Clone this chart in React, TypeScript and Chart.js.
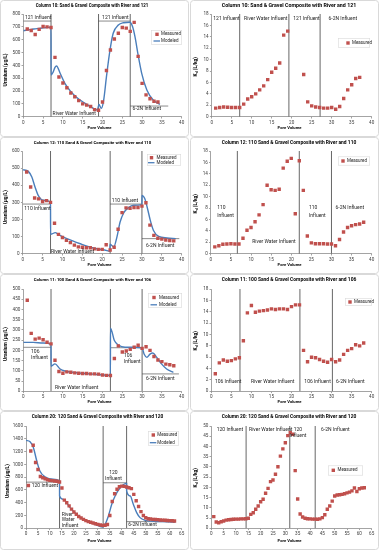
import { useEffect, useRef } from 'react';
import { Chart, registerables } from 'chart.js';

Chart.register(...registerables);

const FONT = 'Roboto, "Liberation Sans", Arial, sans-serif';
const RED = '#c0504d';
const BLUE = '#4a7ebb';
const TXT = '#262626';

// ---------- tick labels ----------
const xTicks40 = [0, 5, 10, 15, 20, 25, 30, 35, 40];
const xTicks65 = [0, 5, 10, 15, 20, 25, 30, 35, 40, 45, 50, 55, 60, 65];
const uTicks800 = [0, 100, 200, 300, 400, 500, 600, 700, 800];
const uTicks600 = [0, 100, 200, 300, 400, 500, 600];
const uTicks500 = [0, 50, 100, 150, 200, 250, 300, 350, 400, 450, 500];
const uTicks1600 = [0, 200, 400, 600, 800, 1000, 1200, 1400, 1600];
const kdTicks18 = [0, 2, 4, 6, 8, 10, 12, 14, 16, 18];
const kdTicks50 = [0, 5, 10, 15, 20, 25, 30, 35, 40, 45, 50];

// ---------- Column 10 ----------
const c10UPoreVolume = [1, 2, 3, 4, 5, 6, 7, 8, 9, 10, 11, 12, 13, 14, 15, 16, 17, 18, 19, 20, 21, 22, 23, 24, 25, 26, 27, 28, 29, 30, 31, 32, 33, 34];
const c10UMeasured = [683, 672, 640, 680, 703, 700, 695, 462, 309, 262, 225, 185, 155, 125, 100, 90, 80, 55, 50, 115, 360, 520, 605, 650, 695, 690, 665, 735, 470, 260, 170, 140, 120, 115];
const c10ModelPoreVolume = [0, 1, 2, 3, 4, 5, 6, 7, 7.01, 7.5, 8, 8.4, 9.3, 10.5, 11.8, 13.5, 15.6, 17.3, 18.7, 19.1, 19.7, 20.3, 21, 21.9, 22.7, 24, 25.3, 26.9, 27.6, 28.2, 29, 29.9, 31.2, 32.8, 34.5];
const c10ModelU = [670, 675, 680, 684, 688, 692, 695, 698, 325, 345, 385, 395, 338, 260, 203, 150, 104, 73, 52, 95, 65, 130, 312, 520, 650, 714, 732, 736, 700, 623, 480, 338, 208, 130, 96];
const c10KdPoreVolume = [1, 2, 3, 4, 5, 6, 7, 8, 9, 10, 11, 12, 13, 14, 15, 16, 17, 18, 19, 23, 24, 25, 26, 27, 28, 29, 30, 31, 32, 33, 34, 35, 36, 37];
const c10Kd = [1.5, 1.6, 1.7, 1.65, 1.6, 1.6, 1.6, 2.2, 3.1, 3.5, 4.0, 4.7, 5.4, 6.5, 7.8, 8.5, 9.4, 14.3, 15.0, 7.4, 2.6, 1.9, 1.7, 1.6, 1.5, 1.5, 1.6, 1.3, 1.8, 3.2, 4.7, 5.6, 6.7, 6.9];
const c10Changes = [7, 19, 27];
const c10KdChanges = [7, 19.3, 27.1];

// ---------- Column 12 ----------
const c12PoreVolume = [1, 2, 3, 4, 5, 6, 7, 8, 9, 10, 11, 12, 13, 14, 15, 16, 17, 18, 19, 20, 21, 22, 23, 24, 25, 26, 27, 28, 29, 30, 31, 32, 33, 34, 35, 36, 37, 38];
const c12UMeasured = [477, 390, 325, 320, 305, 310, 300, 178, 113, 95, 78, 65, 50, 40, 38, 35, 35, 28, 25, 25, 52, 22, 38, 143, 240, 268, 265, 270, 270, 278, 298, 167, 107, 90, 85, 80, 77, 75];
const c12ModelPoreVolume = [0, 1.4, 2.3, 3.1, 3.9, 5.2, 7, 7.01, 8.2, 9, 11.1, 14.5, 17.8, 21.2, 21.9, 22, 22.9, 23.7, 24.5, 25.4, 26.6, 27.9, 30, 30.01, 30.7, 31.3, 32.1, 32.9, 34.2, 36.3, 38.5];
const c12ModelU = [491, 481, 448, 390, 341, 312, 302, 113, 123, 111, 88, 58, 33, 18, 14, 55, 39, 97, 185, 238, 269, 283, 287, 341, 322, 273, 195, 136, 101, 92, 88];
const c12Kd = [1.2, 1.4, 1.65, 1.7, 1.75, 1.7, 1.7, 2.7, 4.1, 4.6, 5.6, 6.8, 8.6, 12.0, 11.2, 11.1, 11.3, 15.0, 16.2, 16.7, 7.0, 16.3, 11.1, 3.1, 1.9, 1.75, 1.75, 1.75, 1.7, 1.7, 1.4, 2.5, 3.8, 4.6, 4.9, 5.1, 5.2, 5.5];
const c12Changes = [7, 22, 30];
const c12KdChanges = [6.6, 22, 30];

// ---------- Column 11 ----------
const c11PoreVolume = [1, 2, 3, 4, 5, 6, 7, 8, 9, 10, 11, 12, 13, 14, 15, 16, 17, 18, 19, 20, 21, 22, 23, 24, 25, 26, 27, 28, 29, 30, 31, 32, 33, 34, 35, 36, 37, 38];
const c11UMeasured = [445, 283, 255, 260, 252, 240, 232, 152, 97, 88, 95, 93, 90, 88, 87, 87, 85, 85, 84, 80, 78, 77, 160, 222, 192, 197, 205, 215, 225, 210, 218, 200, 170, 153, 145, 133, 130, 125];
const c11ModelPoreVolume = [0, 2.5, 5, 7, 7.01, 8, 9.3, 10.5, 13.5, 16.8, 19.4, 22, 22.01, 23, 24, 25.7, 27.8, 30, 30.5, 31.2, 32, 32.7, 33.7, 34.9, 36.2, 37.9];
const c11ModelU = [239, 239, 236, 231, 122, 134, 109, 99, 91, 85, 81, 77, 309, 248, 226, 215, 215, 212, 182, 166, 182, 187, 166, 134, 109, 93];
const c11Kd = [3.1, 5.0, 5.5, 5.3, 5.4, 5.7, 5.9, 8.9, 13.8, 15.1, 13.9, 14.1, 14.2, 14.3, 14.5, 14.4, 14.5, 14.5, 14.4, 14.9, 15.2, 15.2, 7.2, 5.2, 6.0, 5.9, 5.6, 5.3, 5.1, 5.6, 5.2, 5.5, 6.5, 7.2, 7.5, 8.2, 8.0, 8.5];
const c11Changes = [7, 22, 30];
const c11KdChanges = [7.15, 22.1, 30.2];

// ---------- Column 20 ----------
const c20PoreVolume = [1, 2, 3, 4, 5, 6, 7, 8, 9, 10, 11, 12, 13, 14, 15, 16, 17, 18, 19, 20, 21, 22, 23, 24, 25, 26, 27, 28, 29, 30, 31, 32, 33, 34, 35, 36, 37, 38, 39, 40, 41, 42, 43, 44, 45, 46, 47, 48, 49, 50, 51, 52, 53, 54, 55, 56, 57, 58, 59, 60, 61, 62];
const c20UMeasured = [670, 1210, 1300, 1030, 920, 810, 790, 775, 760, 750, 745, 740, 735, 725, 630, 440, 400, 350, 300, 255, 220, 185, 160, 140, 120, 105, 95, 82, 72, 62, 52, 45, 48, 60, 200, 420, 540, 610, 650, 660, 655, 645, 635, 620, 530, 430, 340, 260, 200, 165, 150, 145, 140, 138, 135, 130, 128, 125, 122, 120, 118, 115];
const c20ModelPoreVolume = [0, 1.7, 3.1, 4.5, 5.8, 7.9, 11.4, 14, 14.01, 15.6, 18.4, 21.9, 25.3, 28.8, 31.9, 33, 34.4, 35.8, 37.2, 39.3, 42, 42.01, 43.5, 44.8, 46.2, 47.6, 49.7, 53.2, 58.8, 62.3];
const c20ModelU = [1375, 1354, 1260, 1052, 896, 807, 766, 740, 505, 453, 323, 193, 115, 63, 21, 62, 193, 375, 505, 635, 703, 583, 505, 375, 245, 167, 125, 110, 102, 98];
const c20Kd = [5.7, 3.1, 2.7, 3.2, 3.6, 4.0, 4.2, 4.3, 4.4, 4.5, 4.5, 4.6, 4.6, 4.7, 4.9, 6.8, 7.6, 9.3, 10.9, 13.0, 14.2, 17.1, 19.5, 22.8, 23.6, 26.4, 30.1, 35.3, 38.8, 41.8, 45.3, 46.7, 46.0, 28.2, 14.3, 7.0, 5.5, 4.9, 4.7, 4.6, 4.5, 4.5, 4.4, 4.6, 5.2, 6.6, 9.3, 10.9, 13.3, 15.8, 16.3, 16.4, 16.6, 16.9, 17.3, 17.7, 18.3, 19.7, 18.0, 19.3, 19.7, 19.8];
const c20Changes = [14, 32.2, 42];
const c20KdChanges = [14.1, 31.8, 42.1];

// ---------- types ----------
type Lbl = { x: number; y: number; t: string[]; ls?: number; center?: boolean };
type Leg = { x: number; y: number; w: number; h: number; mx: number; tx: number; rows: number[] };
type Cfg = {
  left: number; top: number; w: number; h: number;
  a: { l: number; r: number; t: number; b: number };
  title: string; titleX: number; titleW: number;
  kd: boolean; yTitleX: number; yTitleY: number; yTitleW: number;
  xTicks: number[]; yTicks: number[];
  px: number[]; py: number[];
  mx?: number[]; my?: number[];
  v: number[]; hl: number[][];
  labels: Lbl[]; legend: Leg;
};

const T10 = 'Column 10: Sand & Gravel Composite with River and 121';
const T12 = 'Column 12: 110 Sand & Gravel Composite with River and 110';
const T11 = 'Column 11: 100 Sand & Gravel Composite with River and 106';
const T20 = 'Column 20: 120 Sand & Gravel Composite with River and 120';

const panels: Cfg[] = [
  {
    left: 0, top: 0, w: 189, h: 137, a: { l: 23.3, r: 181.7, t: 14, b: 116.7 },
    title: T10, titleX: 92, titleW: 113, kd: false, yTitleX: 6, yTitleY: 70, yTitleW: 33,
    xTicks: xTicks40, yTicks: uTicks800, px: c10UPoreVolume, py: c10UMeasured,
    mx: c10ModelPoreVolume, my: c10ModelU, v: c10Changes,
    hl: [[0, 7, 745], [19, 27, 745], [27, 36.6, 83]],
    labels: [
      { x: 0.4, y: 773, t: ['121 Influent'] },
      { x: 7.4, y: 23, t: ['River Water Influent'] },
      { x: 19.9, y: 773, t: ['121 Influent'] },
      { x: 27.6, y: 60, t: ['6-2N Influent'] },
    ],
    legend: { x: 151, y: 30, w: 31, h: 15, mx: 157, tx: 161, rows: [34.3, 41] },
  },
  {
    left: 190, top: 0, w: 189, h: 137, a: { l: 21.7, r: 181.7, t: 14, b: 116.7 },
    title: T10, titleX: 99, titleW: 135, kd: true, yTitleX: 6, yTitleY: 66.7, yTitleW: 22,
    xTicks: xTicks40, yTicks: kdTicks18, px: c10KdPoreVolume, py: c10Kd, v: c10KdChanges, hl: [],
    labels: [
      { x: 0.4, y: 17.1, t: ['121 Influent'] },
      { x: 8.1, y: 17.1, t: ['River Water Influent'] },
      { x: 20.4, y: 17.1, t: ['121 Influent'] },
      { x: 29.2, y: 17.1, t: ['6-2N Influent'] },
    ],
    legend: { x: 148, y: 38, w: 32, h: 10, mx: 158, tx: 162, rows: [43] },
  },
  {
    left: 0, top: 137, w: 189, h: 137, a: { l: 22.7, r: 181.7, t: 14, b: 116.7 },
    title: T12, titleX: 92.5, titleW: 118, kd: false, yTitleX: 6, yTitleY: 70, yTitleW: 34,
    xTicks: xTicks40, yTicks: uTicks600, px: c12PoreVolume, py: c12UMeasured,
    mx: c12ModelPoreVolume, my: c12ModelU, v: c12Changes,
    hl: [[0, 7, 290], [22, 30, 290], [30, 39.4, 88]],
    labels: [
      { x: 0.4, y: 263, t: ['110 Influent'] },
      { x: 7.1, y: 14, t: ['River Water Influent'] },
      { x: 22.4, y: 312, t: ['110 Influent'] },
      { x: 31, y: 49, t: ['6-2N Influent'] },
    ],
    legend: { x: 147, y: 17, w: 34, h: 12, mx: 151.5, tx: 156.5, rows: [20.7, 25.7] },
  },
  {
    left: 190, top: 137, w: 189, h: 137, a: { l: 20.8, r: 181.7, t: 14, b: 116.7 },
    title: T12, titleX: 99, titleW: 135, kd: true, yTitleX: 6, yTitleY: 66.7, yTitleW: 22,
    xTicks: xTicks40, yTicks: kdTicks18, px: c12PoreVolume, py: c12Kd, v: c12KdChanges, hl: [],
    labels: [
      { x: 1.6, y: 8.1, t: ['110', 'Influent'], ls: 8 },
      { x: 10.3, y: 2.05, t: ['River Water Influent'] },
      { x: 24.4, y: 8.1, t: ['110', 'Influent'], ls: 8 },
      { x: 31, y: 8.0, t: ['6-2N Influent'] },
    ],
    legend: { x: 148, y: 19.5, w: 32, h: 9, mx: 153, tx: 157, rows: [24] },
  },
  {
    left: 0, top: 274, w: 189, h: 137, a: { l: 23.3, r: 181.7, t: 15, b: 117.3 },
    title: T11, titleX: 92.5, titleW: 118, kd: false, yTitleX: 6, yTitleY: 70, yTitleW: 34,
    xTicks: xTicks40, yTicks: uTicks500, px: c11PoreVolume, py: c11UMeasured,
    mx: c11ModelPoreVolume, my: c11ModelU, v: c11Changes,
    hl: [[0, 7, 215], [22, 30, 213], [30, 39.3, 85]],
    labels: [
      { x: 1.95, y: 193, t: ['106', 'Influent'], ls: 6 },
      { x: 8, y: 19.5, t: ['River Water Influent'] },
      { x: 25.4, y: 176, t: ['106', 'Influent'], ls: 6.5 },
      { x: 31, y: 63, t: ['6-2N Influent'] },
    ],
    legend: { x: 148, y: 19, w: 34, h: 15, mx: 154, tx: 159, rows: [23.5, 30.8] },
  },
  {
    left: 190, top: 274, w: 189, h: 137, a: { l: 21.3, r: 181.7, t: 15, b: 117.3 },
    title: T11, titleX: 99, titleW: 135, kd: true, yTitleX: 6, yTitleY: 66.7, yTitleW: 22,
    xTicks: xTicks40, yTicks: kdTicks18, px: c11PoreVolume, py: c11Kd, v: c11KdChanges, hl: [],
    labels: [
      { x: 0.9, y: 1.7, t: ['106 Influent'] },
      { x: 9.9, y: 1.7, t: ['River Water Influent'] },
      { x: 23.2, y: 1.7, t: ['106 Influent'] },
      { x: 31.1, y: 1.7, t: ['6-2N Influent'] },
    ],
    legend: { x: 155, y: 24, w: 27, h: 8, mx: 160, tx: 164, rows: [28] },
  },
  {
    left: 0, top: 411, w: 189, h: 139, a: { l: 26, r: 181.7, t: 15, b: 117.3 },
    title: T20, titleX: 97.5, titleW: 132, kd: false, yTitleX: 7.3, yTitleY: 70, yTitleW: 34,
    xTicks: xTicks65, yTicks: uTicks1600, px: c20PoreVolume, py: c20UMeasured,
    mx: c20ModelPoreVolume, my: c20ModelU, v: c20Changes,
    hl: [[0, 14, 722], [32.2, 42, 712], [42, 62.3, 104]],
    labels: [
      { x: 2.4, y: 667, t: ['120 Influent'] },
      { x: 14.9, y: 219, t: ['River', 'Water', 'Influent'], ls: 5.7 },
      { x: 36.5, y: 861, t: ['120', 'Influent'], ls: 6, center: true },
      { x: 42.7, y: 62, t: ['6-2N Influent'] },
    ],
    legend: { x: 148, y: 20, w: 31, h: 15, mx: 153.3, tx: 157.3, rows: [24, 31.7] },
  },
  {
    left: 190, top: 411, w: 189, h: 139, a: { l: 21.3, r: 181.7, t: 15, b: 117.3 },
    title: T20, titleX: 99, titleW: 135, kd: true, yTitleX: 6, yTitleY: 66.7, yTitleW: 22,
    xTicks: xTicks65, yTicks: kdTicks50, px: c20PoreVolume, py: c20Kd, v: c20KdChanges, hl: [],
    labels: [
      { x: 2.2, y: 48, t: ['120 Influent'] },
      { x: 15.3, y: 48, t: ['River Water Influent'] },
      { x: 35.1, y: 48, t: ['120', 'Influent'], ls: 5.3, center: true },
      { x: 44.5, y: 48, t: ['6-2N Influent'] },
    ],
    legend: { x: 138, y: 54.5, w: 35, h: 10, mx: 143.3, tx: 147.5, rows: [59.3] },
  },
];

function fitSize(ctx: CanvasRenderingContext2D, text: string, weight: string, target: number) {
  ctx.font = `${weight} 10px ${FONT}`;
  const w = ctx.measureText(text).width;
  return (10 * target) / w;
}

function makeDeco(c: Cfg) {
  return {
    id: 'deco',
    beforeDraw(chart: any) {
      const ctx: CanvasRenderingContext2D = chart.ctx;
      ctx.save();
      ctx.fillStyle = '#fff';
      ctx.fillRect(0, 0, chart.width, chart.height);
      ctx.strokeStyle = '#d9d9d9';
      ctx.lineWidth = 1;
      ctx.beginPath();
      if ((ctx as any).roundRect) (ctx as any).roundRect(0.5, 0.5, chart.width - 1, chart.height - 1, 3);
      else ctx.rect(0.5, 0.5, chart.width - 1, chart.height - 1);
      ctx.stroke();
      ctx.restore();
    },
    afterDatasetsDraw(chart: any) {
      const ctx: CanvasRenderingContext2D = chart.ctx;
      const sx = chart.scales.x;
      const sy = chart.scales.y;
      ctx.save();
      ctx.fillStyle = TXT;
      ctx.font = `5px ${FONT}`;
      ctx.textBaseline = 'middle';
      for (const l of c.labels) {
        const px = sx.getPixelForValue(l.x);
        const py = sy.getPixelForValue(l.y);
        ctx.textAlign = l.center ? 'center' : 'left';
        l.t.forEach((s, i) => ctx.fillText(s, px, py + i * (l.ls ?? 5.5)));
      }
      ctx.restore();
    },
    afterDraw(chart: any) {
      const ctx: CanvasRenderingContext2D = chart.ctx;
      ctx.save();
      // title
      const ts = fitSize(ctx, c.title, 'bold', c.titleW);
      ctx.font = `bold ${ts}px ${FONT}`;
      ctx.fillStyle = '#000';
      ctx.textAlign = 'center';
      ctx.textBaseline = 'middle';
      ctx.fillText(c.title, c.titleX, 5.7);
      // x title
      const xs = fitSize(ctx, 'Pore Volume', 'bold', 24);
      ctx.font = `bold ${xs}px ${FONT}`;
      ctx.fillText('Pore Volume', 99.5, c.h - 8.6);
      // y title
      ctx.translate(c.yTitleX, c.yTitleY);
      ctx.rotate(-Math.PI / 2);
      if (!c.kd) {
        const ys = fitSize(ctx, 'Uranium (μg/L)', 'bold', c.yTitleW);
        ctx.font = `bold ${ys}px ${FONT}`;
        ctx.fillText('Uranium (μg/L)', 0, 0);
      } else {
        const s = 4.9;
        const f1 = `bold ${s}px ${FONT}`;
        const f2 = `bold ${s * 0.7}px ${FONT}`;
        ctx.font = f1;
        const wK = ctx.measureText('K').width;
        const wR = ctx.measureText(' (L/kg)').width;
        ctx.font = f2;
        const wd = ctx.measureText('d').width;
        let cx = -(wK + wd + wR) / 2;
        ctx.textAlign = 'left';
        ctx.font = f1;
        ctx.fillText('K', cx, 0);
        cx += wK;
        ctx.font = f2;
        ctx.fillText('d', cx, s * 0.3);
        cx += wd;
        ctx.font = f1;
        ctx.fillText(' (L/kg)', cx, 0);
      }
      ctx.restore();
      // legend
      const g = c.legend;
      ctx.save();
      ctx.fillStyle = '#fff';
      ctx.fillRect(g.x, g.y, g.w, g.h);
      ctx.strokeStyle = '#d9d9d9';
      ctx.lineWidth = 0.6;
      ctx.strokeRect(g.x + 0.3, g.y + 0.3, g.w - 0.6, g.h - 0.6);
      ctx.font = `4.5px ${FONT}`;
      ctx.textAlign = 'left';
      ctx.textBaseline = 'middle';
      g.rows.forEach((ry, i) => {
        if (i === 0) {
          ctx.fillStyle = RED;
          ctx.fillRect(g.mx - 1.7, ry - 1.7, 3.4, 3.4);
          ctx.fillStyle = TXT;
          ctx.fillText('Measured', g.tx, ry);
        } else {
          ctx.strokeStyle = BLUE;
          ctx.lineWidth = 1.3;
          ctx.beginPath();
          ctx.moveTo(g.mx - 3.5, ry);
          ctx.lineTo(g.mx + 3, ry);
          ctx.stroke();
          ctx.fillStyle = TXT;
          ctx.fillText('Modeled', g.tx, ry);
        }
      });
      ctx.restore();
    },
  };
}

function axis(ticks: number[], fit: (s: any) => void) {
  return {
    type: 'linear' as const,
    min: ticks[0],
    max: ticks[ticks.length - 1],
    afterBuildTicks: (s: any) => {
      s.ticks = ticks.map((value) => ({ value }));
    },
    afterFit: fit,
    ticks: {
      autoSkip: false,
      maxRotation: 0,
      font: { size: 4.6, family: FONT },
      color: '#404040',
      padding: 1.2,
      callback: (v: any) => String(v),
    },
    grid: { drawOnChartArea: false, drawTicks: true, tickLength: 1.8, color: '#868686', lineWidth: 0.75 },
    border: { color: '#868686', width: 0.75 },
  };
}

function buildConfig(c: Cfg): any {
  const yMax = c.yTicks[c.yTicks.length - 1];
  const datasets: any[] = [
    {
      data: c.px.map((x, i) => ({ x, y: c.py[i] })),
      pointStyle: 'rect',
      pointRadius: 2.4,
      pointHoverRadius: 2.4,
      backgroundColor: RED,
      borderWidth: 0,
      showLine: false,
    },
  ];
  if (c.mx && c.my) {
    const my = c.my;
    datasets.push({
      data: c.mx.map((x, i) => ({ x, y: my[i] })),
      showLine: true,
      borderColor: BLUE,
      borderWidth: 1.4,
      pointRadius: 0,
      cubicInterpolationMode: 'monotone',
      fill: false,
    });
  }
  c.v.forEach((x) =>
    datasets.push({
      data: [{ x, y: 0 }, { x, y: yMax }],
      showLine: true,
      borderColor: '#404040',
      borderWidth: 0.8,
      pointRadius: 0,
    })
  );
  c.hl.forEach(([x1, x2, y]) =>
    datasets.push({
      data: [{ x: x1, y }, { x: x2, y }],
      showLine: true,
      borderColor: '#595959',
      borderWidth: 0.7,
      pointRadius: 0,
    })
  );
  return {
    type: 'scatter',
    data: { datasets },
    options: {
      responsive: false,
      animation: false,
      events: [],
      layout: { padding: { left: 0, top: c.a.t, right: c.w - c.a.r, bottom: 0 } },
      plugins: { legend: { display: false }, tooltip: { enabled: false }, title: { display: false } },
      scales: {
        x: axis(c.xTicks, (s: any) => { s.height = c.h - c.a.b; }),
        y: axis(c.yTicks, (s: any) => { s.width = c.a.l; }),
      },
    },
    plugins: [makeDeco(c)],
  };
}

function Panel({ c }: { c: Cfg }) {
  const ref = useRef<HTMLCanvasElement>(null);
  useEffect(() => {
    const chart = new Chart(ref.current as HTMLCanvasElement, buildConfig(c));
    return () => chart.destroy();
  }, [c]);
  return (
    <canvas
      ref={ref}
      width={c.w}
      height={c.h}
      style={{ position: 'absolute', left: c.left, top: c.top, width: c.w, height: c.h }}
    />
  );
}

export default function App() {
  return (
    <div style={{ position: 'absolute', left: 0, top: 0, width: 379, height: 550, background: '#fff' }}>
      {panels.map((c, i) => (
        <Panel key={i} c={c} />
      ))}
    </div>
  );
}
